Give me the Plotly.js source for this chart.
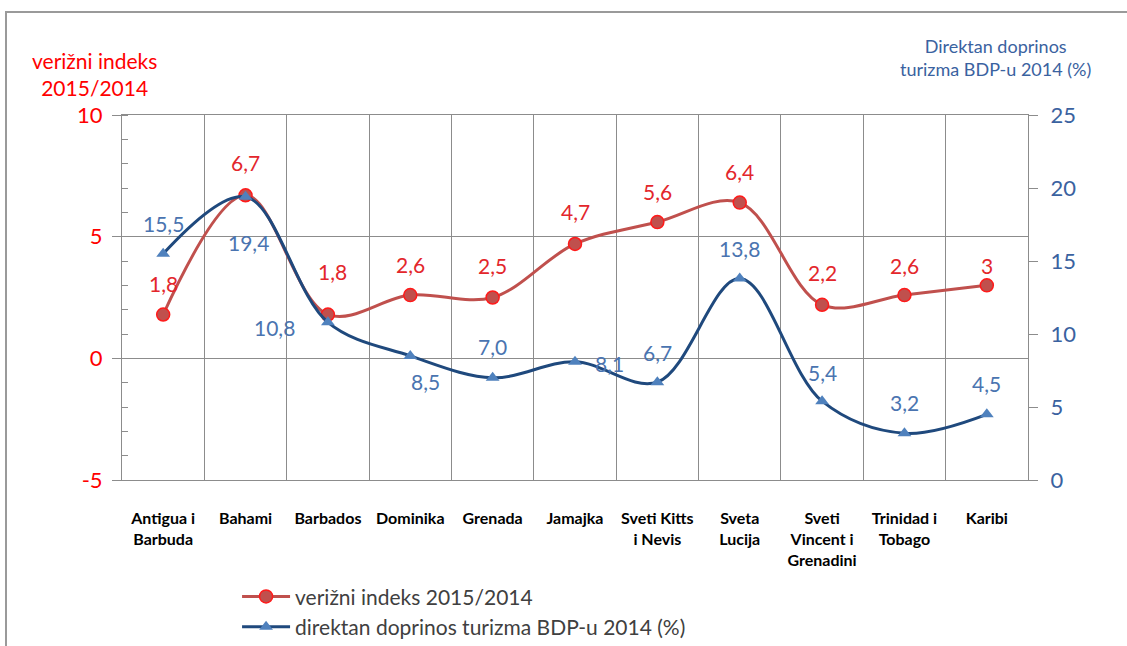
<!DOCTYPE html>
<html>
<head>
<meta charset="utf-8">
<script src="https://cdn.plot.ly/plotly-3.0.1.min.js"></script>
<style>
  html, body { margin: 0; padding: 0; background: #fff; overflow: hidden; width: 1127px; height: 646px; }
  #chart { position: absolute; left: 0; top: 0; width: 1127px; height: 646px; }
  #frame { position: absolute; left: 5px; top: 11px; width: 1300px; height: 800px; border-left: 2px solid #9a9a9a; border-top: 2px solid #9a9a9a; pointer-events: none; }
</style>
</head>
<body>
<div id="chart"></div>
<div id="frame"></div>
<script>
// ---- data ----
const categories = ["Antigua i<br>Barbuda", "Bahami", "Barbados", "Dominika", "Grenada", "Jamajka",
                    "Sveti Kitts<br>i Nevis", "Sveta<br>Lucija", "Sveti<br>Vincent i<br>Grenadini",
                    "Trinidad i<br>Tobago", "Karibi"];
const chainIndex = [1.8, 6.7, 1.8, 2.6, 2.5, 4.7, 5.6, 6.4, 2.2, 2.6, 3];
const tourismShare = [15.5, 19.4, 10.8, 8.5, 7.0, 8.1, 6.7, 13.8, 5.4, 3.2, 4.5];
const chainLabels = ["1,8", "6,7", "1,8", "2,6", "2,5", "4,7", "5,6", "6,4", "2,2", "2,6", "3"];
const tourismLabels = ["15,5", "19,4", "10,8", "8,5", "7,0", "8,1", "6,7", "13,8", "5,4", "3,2", "4,5"];
const leftTickVals = [-5, 0, 5, 10];
const leftTickText = ["-5", "0", "5", "10"];
const seriesNames = ["verižni indeks 2015/2014", "direktan doprinos turizma BDP-u 2014 (%)"];
const leftTitle = "verižni indeks<br>2015/2014";
const rightTitle = "Direktan doprinos<br>turizma BDP-u 2014 (%)";

// label offsets (pixels) relative to each point
const chainShift = [[0,-31],[0,-33],[5,-43],[0,-31],[0,-32],[0,-32],[0,-31],[0,-31],[0,-32],[0,-30],[0,-20]];
const tourShift = [[0,-30],[3,46],[-53,5],[15,26],[0,-31],[34,2],[0,-30],[0,-30],[0,-29],[0,-31],[0,-31]];

const FONT = "Lato, 'Open Sans', sans-serif";
const RED_TXT = "#e3262b";
const BLUE_TXT = "#4a74b0";

const traces = [
  {
    x: categories, y: chainIndex, name: seriesNames[0], type: "scatter", mode: "lines+markers",
    line: { color: "#c0504d", width: 3, shape: "spline", smoothing: 1 },
    marker: { symbol: "circle", size: 13, color: "#c0504d", line: { color: "#ff1a1a", width: 1.5 } },
    yaxis: "y", cliponaxis: false
  },
  {
    x: categories, y: tourismShare, name: seriesNames[1], type: "scatter", mode: "lines+markers",
    line: { color: "#1f497d", width: 3, shape: "spline", smoothing: 1 },
    marker: { symbol: "triangle-up", size: 12, color: "#4f81bd" },
    yaxis: "y2", cliponaxis: false
  }
];

const annotations = [];
categories.forEach((c, i) => {
  annotations.push({ x: c, y: chainIndex[i], xref: "x", yref: "y", text: chainLabels[i], showarrow: false,
    xshift: chainShift[i][0], yshift: -chainShift[i][1], font: { family: FONT, size: 21, color: RED_TXT } });
  annotations.push({ x: c, y: tourismShare[i], xref: "x", yref: "y2", text: tourismLabels[i], showarrow: false,
    xshift: tourShift[i][0], yshift: -tourShift[i][1], font: { family: FONT, size: 21, color: BLUE_TXT } });
});
annotations.push({ xref: "paper", yref: "paper", x: -0.03, y: 1.035, xanchor: "center", yanchor: "bottom",
  text: leftTitle, showarrow: false, align: "center", font: { family: FONT, size: 21, color: "#ff0000" } });
annotations.push({ xref: "paper", yref: "paper", x: 0.964, y: 1.09, xanchor: "center", yanchor: "bottom",
  text: rightTitle, showarrow: false, align: "center", font: { family: FONT, size: 18, color: "#3a62a0" } });

const layout = {
  width: 1127, height: 646,
  margin: { l: 122, r: 99, t: 115, b: 166 },
  paper_bgcolor: "#fff", plot_bgcolor: "#fff",
  font: { family: FONT },
  showlegend: true,
  legend: { x: 0.127, xref: "paper", y: 0.108, yref: "container", xanchor: "left", yanchor: "top",
    orientation: "v", itemwidth: 48,
    font: { family: FONT, size: 21, color: "#404040" }, tracegroupgap: 0, bgcolor: "rgba(0,0,0,0)" },
  xaxis: {
    type: "category", range: [-0.5, 10.5], tickson: "boundaries", showgrid: true, gridcolor: "#8c8c8c", gridwidth: 1,
    showline: true, linecolor: "#8c8c8c", linewidth: 1, mirror: true, automargin: false,
    ticks: "", ticklabelstandoff: 24, tickangle: 0,
    tickfont: { family: FONT, size: 16, color: "#000", weight: "bold" }
  },
  yaxis: {
    range: [-5, 10], tickmode: "array", tickvals: leftTickVals, ticktext: leftTickText,
    showgrid: true, gridcolor: "#8c8c8c", gridwidth: 1, zeroline: false,
    showline: true, linecolor: "#8c8c8c", linewidth: 1, ticks: "outside", ticklen: 9, tickcolor: "#8c8c8c",
    automargin: false, ticklabelstandoff: 5,
    tickfont: { family: FONT, size: 22, color: "#ff0000" },
    minor: { tickmode: "linear", tick0: 0, dtick: 1, ticks: "inside", ticklen: 6, tickcolor: "#8c8c8c", showgrid: false }
  },
  yaxis2: {
    range: [0, 25], dtick: 5, overlaying: "y", side: "right", showgrid: false, zeroline: false,
    showline: true, linecolor: "#8c8c8c", linewidth: 1, ticks: "outside", ticklen: 9, tickcolor: "#8c8c8c",
    automargin: false, ticklabelstandoff: 8,
    tickfont: { family: FONT, size: 22, color: "#3a62a0" }
  },
  annotations: annotations
};

Plotly.newPlot("chart", traces, layout, { displayModeBar: false, staticPlot: true });
</script>
</body>
</html>
